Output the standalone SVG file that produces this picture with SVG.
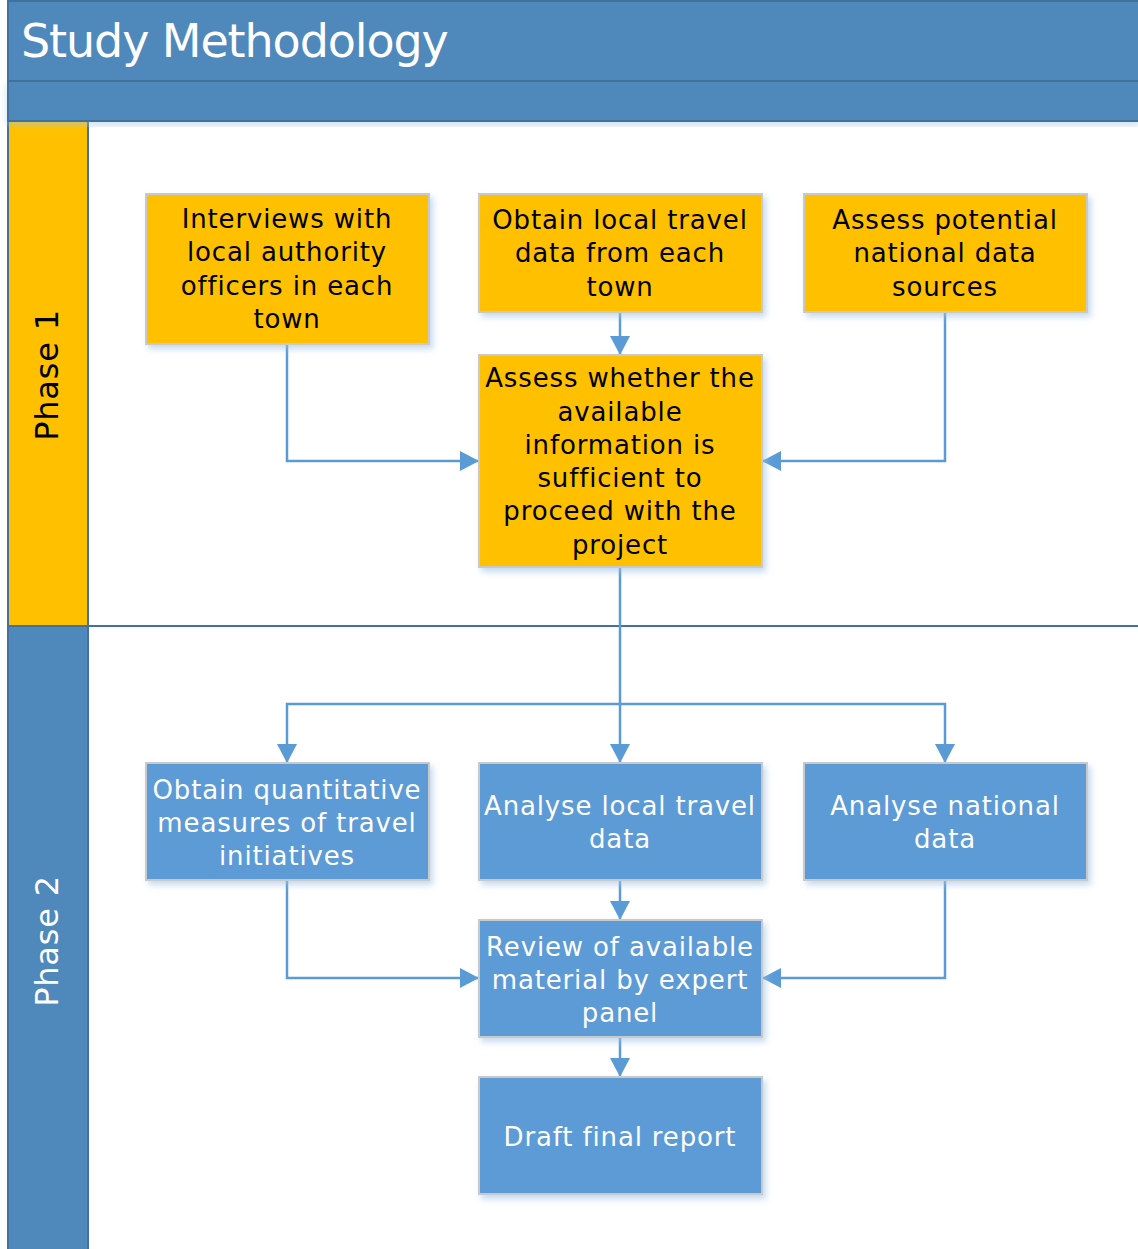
<svg xmlns="http://www.w3.org/2000/svg" width="1138" height="1249" viewBox="0 0 1138 1249">
<defs>
<style>
.lane{fill:#4f88bb;stroke:#41719c;stroke-width:2}
.hdrY{fill:#ffc000;stroke:#41719c;stroke-width:2}
.hdrB{fill:#4f88bb;stroke:#41719c;stroke-width:2}
.boxY{fill:#ffc000;stroke:#c9c9c9;stroke-width:2;filter:url(#sh)}
.boxB{fill:#5b9bd5;stroke:#c9c9c9;stroke-width:2;filter:url(#sh)}
.t{font-family:"DejaVu Sans",Verdana,sans-serif;font-size:26px;letter-spacing:0.85px;text-anchor:middle}
.tk{fill:#000}
.tw{fill:#fff}
.conn{fill:none;stroke:#5b9bd5;stroke-width:2.5}
.title{font-family:"DejaVu Sans",Verdana,sans-serif;font-size:46px;letter-spacing:-1.1px;fill:#fff}
.phase{font-family:"DejaVu Sans",Verdana,sans-serif;font-size:32px;letter-spacing:0.8px;text-anchor:middle}
</style>
<filter id="sh" x="-10%" y="-10%" width="125%" height="130%">
<feDropShadow dx="3" dy="4" stdDeviation="3" flood-color="#9dc3e6" flood-opacity="0.6"/>
</filter>
<filter id="sh2" x="-5%" y="-5%" width="110%" height="120%">
<feDropShadow dx="0" dy="4" stdDeviation="4" flood-color="#9dc3e6" flood-opacity="0.5"/>
</filter>
<marker id="arr" markerUnits="userSpaceOnUse" markerWidth="20" markerHeight="20" viewBox="0 0 20 20" refX="19" refY="10" orient="auto">
<path d="M0,0 L19,10 L0,20 Z" fill="#5b9bd5"/>
</marker>
</defs>
<rect width="1138" height="1249" fill="#fff"/>

<g id="pool">
<rect x="88" y="121" width="1052" height="1130" fill="#fff"/>
<line x1="88" y1="626" x2="1140" y2="626" stroke="#41719c" stroke-width="2"/>
<rect x="8" y="121" width="80" height="505" class="hdrY"/>
<rect x="8" y="626" width="80" height="625" class="hdrB"/>
<rect x="8" y="81" width="1132" height="40" class="lane" filter="url(#sh2)"/>
<rect x="8" y="1" width="1132" height="80" class="lane"/>
<text x="21" y="57" class="title">Study Methodology</text>
<text class="phase" fill="#000" transform="translate(58,375) rotate(-90)">Phase 1</text>
<text class="phase" fill="#fff" transform="translate(58,941) rotate(-90)">Phase 2</text>
</g>

<g id="connectors">
<path class="conn" d="M287,344 V461 H479" marker-end="url(#arr)"/>
<path class="conn" d="M620,312 V355" marker-end="url(#arr)"/>
<path class="conn" d="M945,312 V461 H762" marker-end="url(#arr)"/>
<path class="conn" d="M620,567 V763" marker-end="url(#arr)"/>
<path class="conn" d="M620,704 H287 V763" marker-end="url(#arr)"/>
<path class="conn" d="M620,704 H945 V763" marker-end="url(#arr)"/>
<path class="conn" d="M287,880 V978 H479" marker-end="url(#arr)"/>
<path class="conn" d="M620,880 V920" marker-end="url(#arr)"/>
<path class="conn" d="M945,880 V978 H762" marker-end="url(#arr)"/>
<path class="conn" d="M620,1037 V1077" marker-end="url(#arr)"/>
</g>

<g id="n1">
<rect x="146" y="194" width="283" height="150" class="boxY"/>
<text class="t tk"><tspan x="287" y="228">Interviews with</tspan><tspan x="287" y="261">local authority</tspan><tspan x="287" y="295">officers in each</tspan><tspan x="287" y="328">town</tspan></text>
</g>
<g id="n2">
<rect x="479" y="194" width="283" height="118" class="boxY"/>
<text class="t tk"><tspan x="620" y="229">Obtain local travel</tspan><tspan x="620" y="262">data from each</tspan><tspan x="620" y="296">town</tspan></text>
</g>
<g id="n3">
<rect x="804" y="194" width="283" height="118" class="boxY"/>
<text class="t tk"><tspan x="945" y="229">Assess potential</tspan><tspan x="945" y="262">national data</tspan><tspan x="945" y="296">sources</tspan></text>
</g>
<g id="n4">
<rect x="479" y="355" width="283" height="212" class="boxY"/>
<text class="t tk"><tspan x="620" y="387">Assess whether the</tspan><tspan x="620" y="421">available</tspan><tspan x="620" y="454">information is</tspan><tspan x="620" y="487">sufficient to</tspan><tspan x="620" y="520">proceed with the</tspan><tspan x="620" y="554">project</tspan></text>
</g>
<g id="n5">
<rect x="146" y="763" width="283" height="117" class="boxB"/>
<text class="t tw"><tspan x="287" y="799">Obtain quantitative</tspan><tspan x="287" y="832">measures of travel</tspan><tspan x="287" y="865">initiatives</tspan></text>
</g>
<g id="n6">
<rect x="479" y="763" width="283" height="117" class="boxB"/>
<text class="t tw"><tspan x="620" y="815">Analyse local travel</tspan><tspan x="620" y="848">data</tspan></text>
</g>
<g id="n7">
<rect x="804" y="763" width="283" height="117" class="boxB"/>
<text class="t tw"><tspan x="945" y="815">Analyse national</tspan><tspan x="945" y="848">data</tspan></text>
</g>
<g id="n8">
<rect x="479" y="920" width="283" height="117" class="boxB"/>
<text class="t tw"><tspan x="620" y="956">Review of available</tspan><tspan x="620" y="989">material by expert</tspan><tspan x="620" y="1022">panel</tspan></text>
</g>
<g id="n9">
<rect x="479" y="1077" width="283" height="117" class="boxB"/>
<text class="t tw"><tspan x="620" y="1146">Draft final report</tspan></text>
</g>
</svg>
